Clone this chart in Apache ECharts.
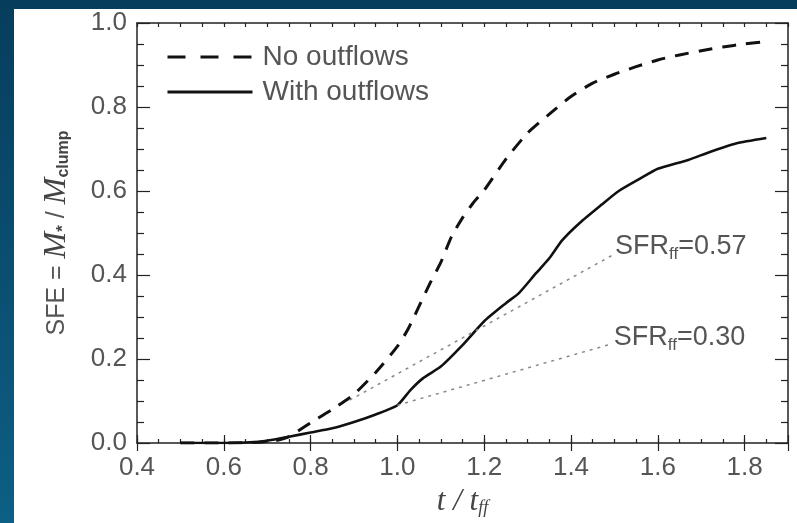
<!DOCTYPE html>
<html>
<head>
<meta charset="utf-8">
<script src="https://cdn.jsdelivr.net/npm/echarts@6/dist/echarts.min.js"></script>
<style>
html,body{margin:0;padding:0;width:797px;height:523px;overflow:hidden;background:linear-gradient(to bottom,#073d5c,#0d5f85);}
#c{position:absolute;left:14px;top:9px;width:783px;height:514px;background:#fff;}
</style>
</head>
<body>
<div id="c"></div>
<script>
// ---- data ----
const xTicks = [0.4, 0.6, 0.8, 1.0, 1.2, 1.4, 1.6, 1.8];
const yTicks = [0.0, 0.2, 0.4, 0.6, 0.8, 1.0];

const tNoOutflows   = [0.50,0.60,0.68,0.72,0.75,0.80,0.85,0.90,0.95,1.00,1.025,1.05,1.075,1.10,1.125,1.15,1.175,1.20,1.25,1.30,1.35,1.40,1.45,1.50,1.55,1.60,1.65,1.70,1.75,1.80,1.85];
const sfeNoOutflows = [0.000,0.000,0.002,0.006,0.015,0.048,0.080,0.116,0.168,0.230,0.272,0.326,0.380,0.430,0.492,0.536,0.572,0.602,0.676,0.738,0.783,0.825,0.857,0.878,0.896,0.912,0.924,0.934,0.943,0.950,0.956];

const tWithOutflows   = [0.50,0.60,0.68,0.72,0.75,0.80,0.85,0.90,0.95,1.00,1.03,1.06,1.10,1.15,1.20,1.25,1.28,1.32,1.35,1.38,1.42,1.47,1.51,1.56,1.60,1.67,1.72,1.78,1.85];
const sfeWithOutflows = [0.000,0.000,0.003,0.009,0.015,0.025,0.035,0.050,0.068,0.090,0.126,0.155,0.182,0.233,0.290,0.333,0.357,0.405,0.440,0.483,0.524,0.567,0.600,0.630,0.653,0.674,0.693,0.713,0.726];

const tSfr057   = [0.89, 1.497];
const sfeSfr057 = [0.102, 0.448];
const tSfr030   = [1.00, 1.494];
const sfeSfr030 = [0.090, 0.236];

const labelSfr057 = '{a|SFR}{b|ff}{a|=0.57}';
const labelSfr030 = '{a|SFR}{b|ff}{a|=0.30}';
const seriesNames = ['No outflows', 'With outflows'];

// ---- build ----
const zip = (xs, ys) => xs.map((x, i) => [x, ys[i]]);
const sfrLabelRich = {
  a: {fontFamily: 'Liberation Sans', fontSize: 27, color: '#555'},
  b: {fontFamily: 'Liberation Sans', fontSize: 17, color: '#555', padding: [15, 0, 0, 0]}
};

const axisCol = '#222';
const labelFmt = v => xTicks.some(t => Math.abs(t - v) < 1e-6) ? (Math.round(v * 10) / 10).toFixed(1) : '';

const chart = echarts.init(document.getElementById('c'));
chart.setOption({
  animation: false,
  grid: {left: 123, top: 14, right: 9, bottom: 80},
  legend: {
    orient: 'vertical', left: 147, top: 29, itemGap: 7, itemWidth: 85, itemHeight: 14,
    itemStyle: {opacity: 0},
    lineStyle: {width: 3},
    textStyle: {fontFamily: 'Liberation Sans', fontSize: 28, color: '#555', padding: [0, 0, 0, 5]},
    data: [
      {name: seriesNames[0], lineStyle: {type: [18, 15], width: 3}},
      {name: seriesNames[1]}
    ]
  },
  xAxis: [
    {type: 'value', min: 0.4, max: 1.9, interval: 0.05, position: 'bottom',
     axisLine: {show: true, onZero: false, lineStyle: {color: axisCol, width: 1.5}},
     axisTick: {show: true, inside: true, length: 4, lineStyle: {color: axisCol, width: 1.2}},
     axisLabel: {formatter: labelFmt, margin: 12, fontFamily: 'Liberation Sans', fontSize: 26, color: '#555', showMaxLabel: false},
     splitLine: {show: false},
     name: '{t|t}{s| / }{t|t}{sub|ff}', nameLocation: 'middle', nameGap: 36,
     nameTextStyle: {rich: {
       t: {fontFamily: 'Liberation Serif', fontStyle: 'italic', fontSize: 31, color: '#444'},
       s: {fontFamily: 'Liberation Serif', fontStyle: 'italic', fontSize: 31, color: '#444'},
       sub: {fontFamily: 'Liberation Serif', fontStyle: 'italic', fontSize: 18, color: '#444', padding: [14, 0, 0, 0]}
     }}},
    {type: 'value', min: 0.4, max: 1.9, interval: 0.2, position: 'bottom',
     axisLine: {show: false}, axisLabel: {show: false}, splitLine: {show: false},
     axisTick: {show: true, inside: true, length: 8, lineStyle: {color: axisCol, width: 1.2}}},
    {type: 'value', min: 0.4, max: 1.9, interval: 0.05, position: 'top',
     axisLine: {show: true, onZero: false, lineStyle: {color: axisCol, width: 1.5}},
     axisLabel: {show: false}, splitLine: {show: false},
     axisTick: {show: true, inside: true, length: 4, lineStyle: {color: axisCol, width: 1.2}}},
    {type: 'value', min: 0.4, max: 1.9, interval: 0.2, position: 'top',
     axisLine: {show: false}, axisLabel: {show: false}, splitLine: {show: false},
     axisTick: {show: true, inside: true, length: 8, lineStyle: {color: axisCol, width: 1.2}}}
  ],
  yAxis: [
    {type: 'value', min: yTicks[0], max: yTicks[yTicks.length - 1], interval: 0.2, position: 'left',
     axisLine: {show: true, onZero: false, lineStyle: {color: axisCol, width: 1.5}},
     axisTick: {show: true, inside: true, length: 13, lineStyle: {color: axisCol, width: 1.2}},
     minorTick: {show: true, splitNumber: 4, length: 7, lineStyle: {color: axisCol, width: 1.2}},
     axisLabel: {formatter: v => v.toFixed(1), margin: 10, fontFamily: 'Liberation Sans', fontSize: 26, color: '#555'},
     splitLine: {show: false}, minorSplitLine: {show: false},
     name: '{s|SFE = }{m|M}{st|*}{s| / }{m|M}{sub|clump}', nameLocation: 'middle', nameGap: 64,
     nameTextStyle: {rich: {
       s: {fontFamily: 'Liberation Sans', fontSize: 25, color: '#555'},
       m: {fontFamily: 'Liberation Serif', fontStyle: 'italic', fontSize: 32, color: '#444'},
       st: {fontFamily: 'Liberation Sans', fontWeight: 'bold', fontSize: 17, color: '#444', padding: [12, 0, 0, 0]},
       sub: {fontFamily: 'Liberation Sans', fontWeight: 'bold', fontSize: 16, color: '#444', padding: [14, 0, 0, 0]}
     }}},
    {type: 'value', min: yTicks[0], max: yTicks[yTicks.length - 1], interval: 0.2, position: 'right',
     axisLine: {show: true, onZero: false, lineStyle: {color: axisCol, width: 1.5}},
     axisTick: {show: true, inside: true, length: 13, lineStyle: {color: axisCol, width: 1.2}},
     minorTick: {show: true, splitNumber: 4, length: 7, lineStyle: {color: axisCol, width: 1.2}},
     axisLabel: {show: false}, splitLine: {show: false}}
  ],
  series: [
    {name: seriesNames[0], type: 'line', data: zip(tNoOutflows, sfeNoOutflows), symbol: 'none', smooth: 0.2,
     lineStyle: {color: '#111', width: 3, type: [14, 10]}, itemStyle: {color: '#111'}},
    {name: seriesNames[1], type: 'line', data: zip(tWithOutflows, sfeWithOutflows), symbol: 'none', smooth: 0.2,
     lineStyle: {color: '#111', width: 2.6}, itemStyle: {color: '#111'}},
    {name: 'sfr057', type: 'line', data: zip(tSfr057, sfeSfr057), symbol: 'none',
     lineStyle: {color: '#888', width: 1.5, type: [3, 5]},
     endLabel: {show: true, formatter: labelSfr057, distance: 2, offset: [0, -8], rich: sfrLabelRich}},
    {name: 'sfr030', type: 'line', data: zip(tSfr030, sfeSfr030), symbol: 'none',
     lineStyle: {color: '#888', width: 1.5, type: [3, 5]},
     endLabel: {show: true, formatter: labelSfr030, distance: 2, offset: [0, -6], rich: sfrLabelRich}}
  ]
});
</script>
</body>
</html>
